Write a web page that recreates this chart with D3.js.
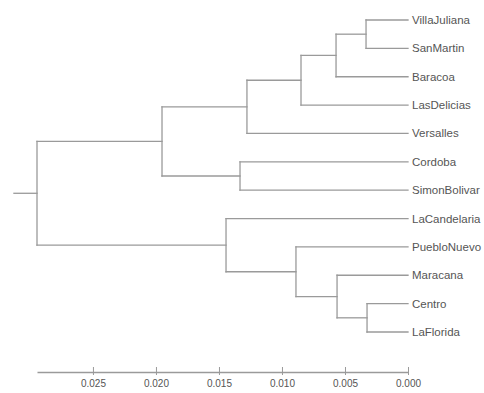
<!DOCTYPE html>
<html>
<head>
<meta charset="utf-8">
<script src="https://cdn.jsdelivr.net/npm/d3@7"></script>
<style>
  html, body { margin: 0; padding: 0; background: #fff; }
  svg { display: block; }
</style>
</head>
<body>
<svg id="chart" width="484" height="393"></svg>
<script>
// Leaves in display order (top to bottom)
const leaves = ["VillaJuliana", "SanMartin", "Baracoa", "LasDelicias", "Versalles",
  "Cordoba", "SimonBolivar", "LaCandelaria", "PuebloNuevo", "Maracana", "Centro", "LaFlorida"];

// hclust-style merges: negative = leaf (1-based), positive = earlier merge row (1-based)
const mergeLeft   = [-1, 1, 2, 3, -6, 4, -11, -10, -9, -8, 6];
const mergeRight  = [-2, -3, -4, -5, -7, 5, -12, 7, 8, 9, 10];
const mergeHeight = [0.00333, 0.00571, 0.00849, 0.01278, 0.01333, 0.01952,
  0.00325, 0.00563, 0.00889, 0.01444, 0.02944];

const tickValues = [0.025, 0.020, 0.015, 0.010, 0.005, 0.000];
const tickLabels = ["0.025", "0.020", "0.015", "0.010", "0.005", "0.000"];

const svg = d3.select("#chart");
const lineColor = "#9a9a9a";
const textColor = "#555";

const rootHeight = d3.max(mergeHeight);
const x = d3.scaleLinear().domain([rootHeight, 0]).range([37, 408]);
const y = d3.scalePoint().domain(leaves).range([20, 332]);

// compute node positions
const nodeY = [];
function posOf(ref) {
  if (ref < 0) return { x: x(0), y: y(leaves[-ref - 1]) };
  return { x: x(mergeHeight[ref - 1]), y: nodeY[ref - 1] };
}
const segs = [];
for (let i = 0; i < mergeHeight.length; i++) {
  const a = posOf(mergeLeft[i]);
  const b = posOf(mergeRight[i]);
  const nx = x(mergeHeight[i]);
  nodeY[i] = (a.y + b.y) / 2;
  segs.push([nx, a.y, nx, b.y]);
  segs.push([nx, a.y, a.x, a.y]);
  segs.push([nx, b.y, b.x, b.y]);
}
// root stub
const rootY = nodeY[nodeY.length - 1];
segs.push([x(rootHeight + 0.00183), rootY, x(rootHeight), rootY]);

svg.append("g")
  .selectAll("line")
  .data(segs)
  .join("line")
  .attr("x1", d => d[0]).attr("y1", d => d[1])
  .attr("x2", d => d[2]).attr("y2", d => d[3])
  .attr("stroke", lineColor)
  .attr("stroke-width", 1.3)
  .attr("stroke-linecap", "square");

// leaf labels
svg.append("g")
  .selectAll("text")
  .data(leaves)
  .join("text")
  .attr("x", x(0) + 4)
  .attr("y", d => y(d))
  .attr("dy", "0.35em")
  .attr("font-family", "Liberation Sans, Arial, sans-serif")
  .attr("font-size", 11.5)
  .attr("fill", textColor)
  .text(d => d);

// axis
const axis = d3.axisBottom(x)
  .tickValues(tickValues)
  .tickFormat((d, i) => tickLabels[i])
  .tickSize(5)
  .tickSizeOuter(0);

const ag = svg.append("g").attr("transform", "translate(0,372)").call(axis);
ag.select(".domain").attr("stroke", lineColor).attr("stroke-width", 1.3);
ag.selectAll(".tick line").attr("stroke", lineColor).attr("y1", -5).attr("y2", 3);
ag.selectAll(".tick text")
  .attr("y", 8)
  .attr("fill", textColor)
  .attr("font-family", "Liberation Sans, Arial, sans-serif")
  .attr("font-size", 10);
</script>
</body>
</html>
